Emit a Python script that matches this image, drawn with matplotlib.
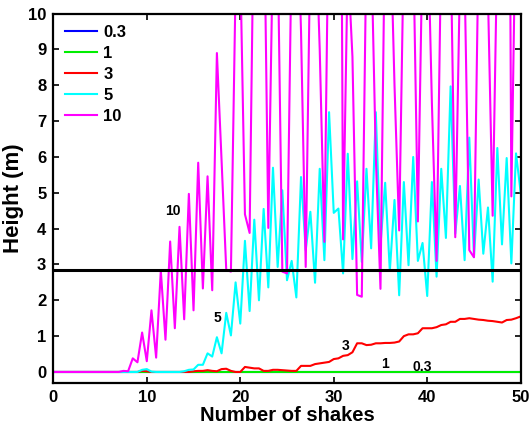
import numpy as np
import matplotlib
matplotlib.use("Agg")
import matplotlib.pyplot as plt

plt.rcParams["font.family"] = ["Liberation Sans", "DejaVu Sans"]
plt.rcParams["font.weight"] = "bold"

# number of shakes, sampled every half shake
shakes = np.arange(0, 50.5, 0.5)

h_03 = [0, 0, 0, 0, 0, 0, 0, 0, 0, 0,
        0, 0, 0, 0, 0, 0, 0, 0, 0, 0,
        0, 0, 0, 0, 0, 0, 0, 0, 0, 0,
        0, 0, 0, 0, 0, 0, 0, 0, 0, 0,
        0, 0, 0, 0, 0, 0, 0, 0, 0, 0,
        0, 0, 0, 0, 0, 0, 0, 0, 0, 0,
        0, 0, 0, 0, 0, 0, 0, 0, 0, 0,
        0, 0, 0, 0, 0, 0, 0, 0, 0, 0,
        0, 0, 0, 0, 0, 0, 0, 0, 0, 0,
        0, 0, 0, 0, 0, 0, 0, 0, 0, 0,
        0]

h_1 = [0, 0, 0, 0, 0, 0, 0, 0, 0, 0,
       0, 0, 0, 0, 0, 0, 0, 0, 0, 0,
       0, 0, 0, 0, 0, 0, 0, 0, 0, 0,
       0, 0, 0, 0, 0, 0, 0, 0, 0, 0,
       0, 0, 0, 0, 0, 0, 0, 0, 0, 0,
       0, 0, 0, 0, 0, 0, 0, 0, 0, 0,
       0, 0, 0, 0, 0, 0, 0, 0, 0, 0,
       0, 0, 0, 0, 0, 0, 0, 0, 0, 0,
       0, 0, 0, 0, 0, 0, 0, 0, 0, 0,
       0, 0, 0, 0, 0, 0, 0, 0, 0, 0,
       0]

h_3 = [0, 0, 0, 0, 0, 0, 0, 0, 0, 0,
       0, 0, 0, 0, 0, 0, 0, 0, 0, 0.03,
       0.02, 0, 0, 0, 0, 0, 0, 0, 0, 0,
       0.02, 0.03, 0.03, 0.05, 0.03, 0.02, 0.08, 0.09, 0.03, 0.0,
       0.0, 0.14, 0.12, 0.1, 0.1, 0.03, 0.03, 0.06, 0.06, 0.05,
       0.04, 0.03, 0.03, 0.17, 0.17, 0.17, 0.22, 0.24, 0.26, 0.28,
       0.36, 0.38, 0.45, 0.47, 0.55, 0.8, 0.8, 0.75, 0.76, 0.8,
       0.8, 0.81, 0.81, 0.82, 0.85, 1.0, 1.05, 1.05, 1.08, 1.22,
       1.22, 1.22, 1.25, 1.31, 1.33, 1.4, 1.4, 1.48, 1.48, 1.5,
       1.48, 1.46, 1.45, 1.43, 1.42, 1.4, 1.38, 1.45, 1.46, 1.5,
       1.55]

h_5 = [0, 0, 0, 0, 0, 0, 0, 0, 0, 0,
       0, 0, 0, 0, 0, 0, 0, 0, 0, 0.06,
       0.08, 0.01, 0, 0, 0, 0, 0, 0, 0.02, 0.06,
       0.07, 0.2, 0.2, 0.52, 0.43, 0.97, 0.52, 1.65, 1.02, 2.5,
       1.35, 3.66, 1.7, 4.25, 2.0, 4.55, 2.36, 5.7, 2.93, 5.07,
       2.56, 3.1, 2.08, 5.44, 3.4, 4.47, 2.49, 5.67, 3.12, 7.25,
       4.44, 4.56, 2.75, 6.09, 3.15, 5.32, 3.07, 5.67, 3.45, 7.25,
       3.54, 5.28, 2.82, 4.8, 2.14, 5.3, 2.98, 6.0, 3.1, 3.6,
       2.12, 5.3, 2.66, 5.67, 3.74, 7.97, 3.86, 5.19, 3.12, 6.54,
       3.21, 5.37, 3.3, 4.59, 2.52, 6.25, 3.56, 5.97, 3.03, 6.1,
       5.0]

h_10 = [0, 0, 0, 0, 0, 0, 0, 0, 0, 0,
        0, 0, 0, 0, 0, 0.03, 0.02, 0.38, 0.27, 1.1,
        0.3, 1.72, 0.4, 2.83, 0.9, 3.64, 1.22, 4.05, 1.47, 4.97,
        1.72, 5.84, 2.33, 5.46, 2.28, 8.9, 5.9, 2.85, 2.8, 10.8,
        11.4, 4.4, 3.88, 14, 15, 14, 4.02, 12, 12, 2.8,
        2.75, 12, 14, 9.5, 2.93, 12, 13, 9, 3.63, 14,
        15, 30, 3.7, 11.5, 8.8, 2.15, 2.1, 12, 12, 6.0,
        2.32, 13, 13, 8, 3.95, 12, 14, 12, 4.2, 12,
        13, 7.5, 3.1, 12, 14, 12, 3.76, 11, 11, 3.4,
        3.2, 12, 13, 10.5, 4.36, 12, 14, 30, 4.9, 13.4,
        14]

series = [("0.3", h_03, "#0000ff"),
          ("1", h_1, "#00ee00"),
          ("3", h_3, "#ff0000"),
          ("5", h_5, "#00ffff"),
          ("10", h_10, "#ff00ff")]

threshold = 2.85

fig = plt.figure(figsize=(5.31, 4.26), dpi=100)
ax = fig.add_axes([0.1004, 0.1016, 0.8802, 0.8664])

for name, h, col in series:
    ax.plot(shakes, h, color=col, lw=1.5, label=name)

ax.axhline(threshold, color="black", lw=2.2)

# labels next to the curves
ax.text(12.8, 4.5, "10", fontsize=10, fontweight="bold", ha="center", va="center")
ax.text(17.6, 1.5, "5", fontsize=10, fontweight="bold", ha="center", va="center")
ax.text(31.3, 0.72, "3", fontsize=10, fontweight="bold", ha="center", va="center")
ax.text(35.5, 0.21, "1", fontsize=10, fontweight="bold", ha="center", va="center")
ax.text(39.5, 0.15, "0.3", fontsize=10, fontweight="bold", ha="center", va="center")

ax.set_xlim(0, 50)
ax.set_ylim(-0.3, 10)
ax.set_xticks(range(0, 51, 10))
ax.set_yticks(range(0, 11))
ax.tick_params(direction="in", top=True, right=True, length=4, width=1.2,
               labelsize=12, pad=5)
for lab in ax.get_xticklabels() + ax.get_yticklabels():
    lab.set_fontweight("bold")
for s in ax.spines.values():
    s.set_linewidth(1.6)

ax.set_xlabel("Number of shakes", fontsize=14.5, fontweight="bold", labelpad=1)
ax.set_ylabel("Height (m)", fontsize=16, fontweight="bold", labelpad=3)

leg = ax.legend(loc="upper left", frameon=False, handlelength=1.9,
                labelspacing=0.35, borderaxespad=0.3, handletextpad=0.4,
                prop={"weight": "bold", "size": 12})

fig.savefig("out.png", dpi=100)
